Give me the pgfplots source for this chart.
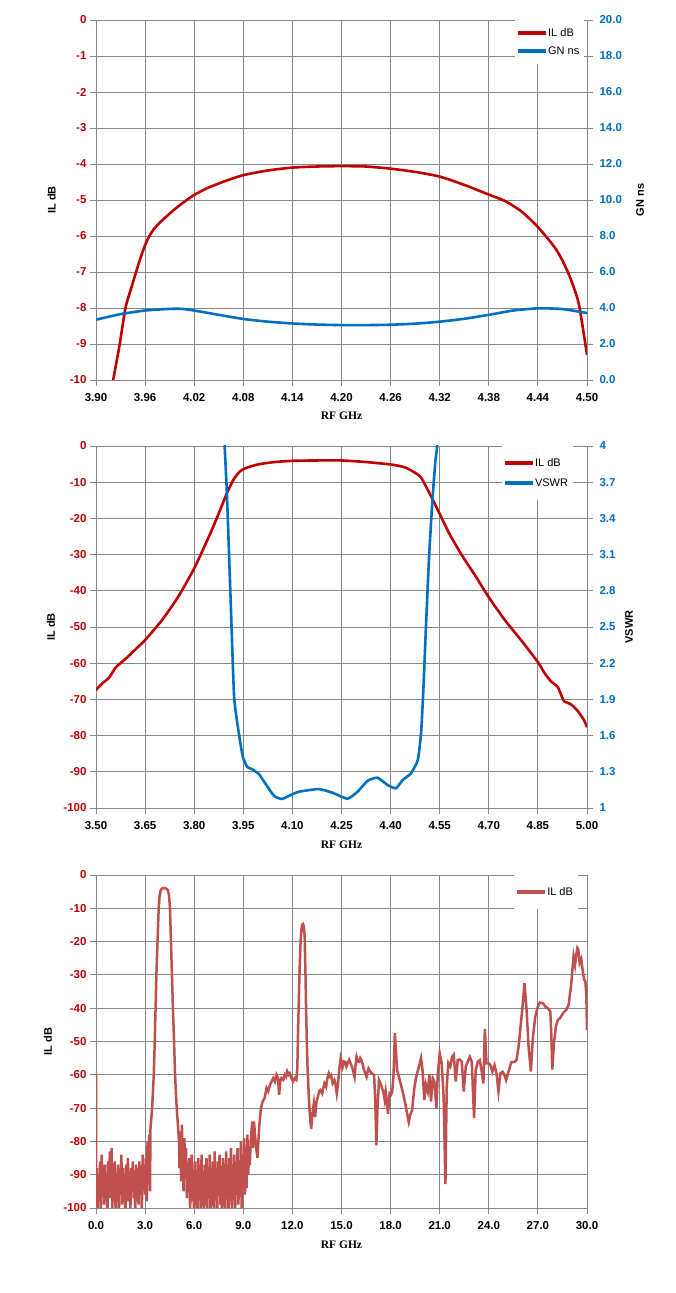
\documentclass[border=0pt]{standalone}
\usepackage{fontspec}
\setmainfont{Liberation Sans}
\newfontfamily\tnr{Liberation Serif}
\usepackage{pgfplots}
\pgfplotsset{compat=1.18}
\definecolor{ilred}{HTML}{C00000}
\definecolor{gnblue}{HTML}{0070C0}
\definecolor{ilthree}{HTML}{C0504D}
\definecolor{gridg}{HTML}{868686}
\newcommand\tickfont{\fontsize{11.5}{13}\selectfont\bfseries}
\newcommand\legfont{\fontsize{11}{13}\selectfont}
\newcommand\labfont{\fontsize{11}{13}\selectfont\bfseries}
\newcommand\xlabfont{\tnr\fontsize{11.5}{13}\selectfont\bfseries}
\pgfplotsset{
  common/.style={
    scale only axis, width=491pt,
    tick align=outside, major tick length=6pt,
    axis line style={draw=gridg, line width=0.9pt},
    tick style={draw=gridg, line width=0.9pt},
    ticklabel style={font=\tickfont},
    legend style={draw=none, fill=white, font=\legfont, inner xsep=3pt,
      /tikz/every odd column/.style={column sep=0pt}},
    legend cell align=left,
    legend image code/.code={\fill[##1,draw=none] (0pt,-1.9pt) rectangle (28pt,1.9pt);},
  },
  prim/.style={common, grid=major, grid style={draw=gridg, line width=0.9pt},
    xtick pos=left, ytick pos=left,
    yticklabel style={text=ilred}, xticklabel style={text=black, yshift=-4pt},
    xlabel style={font=\xlabfont, anchor=center},
    ylabel style={font=\labfont, anchor=center}},
  sec/.style={common, axis x line=none, axis y line*=right,
    yticklabel style={text=gnblue, xshift=3pt},
    ylabel style={font=\labfont, anchor=center}},
}
\begin{document}
\begin{tikzpicture}
\path[use as bounding box, fill=white] (0,0) rectangle (676pt,1293pt);
% ---------------- Chart 1 ----------------
\begin{axis}[prim, at={(96pt,913pt)}, anchor=south west, height=360pt,
  xmin=3.90, xmax=4.50, ymin=-10, ymax=0,
  xtick={3.90,3.96,4.02,4.08,4.14,4.20,4.26,4.32,4.38,4.44,4.50},
  xticklabels={3.90,3.96,4.02,4.08,4.14,4.20,4.26,4.32,4.38,4.44,4.50},
  ytick={-10,-9,-8,-7,-6,-5,-4,-3,-2,-1,0},
  yticklabels={-10,-9,-8,-7,-6,-5,-4,-3,-2,-1,0},
  xlabel={RF GHz}, xlabel style={at={(axis description cs:0.5,-0.1)}},
  ylabel={IL dB}, ylabel style={at={(axis description cs:-0.09,0.5)}}]
\addplot[ilred, line width=2.6pt, smooth, tension=0.4] table {
3.9185 -10.3
3.921 -10.0
3.929 -9.0
3.936 -8.0
3.943 -7.45
3.949 -7.0
3.956 -6.5
3.961 -6.2
3.966 -5.97
3.971 -5.8
3.978 -5.63
3.986 -5.46
3.996 -5.26
4.009 -5.03
4.02 -4.86
4.035 -4.68
4.056 -4.49
4.08 -4.31
4.11 -4.18
4.14 -4.10
4.17 -4.07
4.20 -4.06
4.23 -4.07
4.26 -4.13
4.29 -4.22
4.32 -4.35
4.35 -4.58
4.38 -4.85
4.40 -5.03
4.42 -5.32
4.44 -5.75
4.46 -6.3
4.47 -6.68
4.48 -7.19
4.49 -7.89
4.50 -9.3
};
\end{axis}
\begin{axis}[sec, at={(96pt,913pt)}, anchor=south west, height=360pt,
  xmin=3.90, xmax=4.50, ymin=0, ymax=20,
  ytick={0,2,4,6,8,10,12,14,16,18,20},
  yticklabels={0.0,2.0,4.0,6.0,8.0,10.0,12.0,14.0,16.0,18.0,20.0},
  ylabel={GN ns}, ylabel style={at={(axis description cs:1.108,0.5)}},
  legend style={at={(0.995,1)}, anchor=north east, inner ysep=6pt, row sep=5pt}]
\addlegendimage{ilred}
\addlegendentry{IL dB}
\addplot[gnblue, line width=2.6pt, smooth, tension=0.4] table {
3.90 3.35
3.93 3.66
3.96 3.86
3.99 3.95
4.005 3.95
4.02 3.86
4.05 3.62
4.08 3.39
4.11 3.24
4.14 3.14
4.17 3.08
4.20 3.05
4.23 3.05
4.26 3.07
4.29 3.13
4.32 3.24
4.35 3.40
4.38 3.62
4.41 3.86
4.44 3.98
4.47 3.94
4.50 3.72
};
\addlegendentry{GN ns}
\end{axis}
% ---------------- Chart 2 ----------------
\begin{axis}[prim, at={(96pt,485pt)}, anchor=south west, height=362pt,
  xmin=3.50, xmax=5.00, ymin=-100, ymax=0,
  xtick={3.50,3.65,3.80,3.95,4.10,4.25,4.40,4.55,4.70,4.85,5.00},
  xticklabels={3.50,3.65,3.80,3.95,4.10,4.25,4.40,4.55,4.70,4.85,5.00},
  ytick={-100,-90,-80,-70,-60,-50,-40,-30,-20,-10,0},
  yticklabels={-100,-90,-80,-70,-60,-50,-40,-30,-20,-10,0},
  xlabel={RF GHz}, xlabel style={at={(axis description cs:0.5,-0.102)}},
  ylabel={IL dB}, ylabel style={at={(axis description cs:-0.092,0.5)}}]
\addplot[ilred, line width=2.6pt, smooth, tension=0.4] table {
3.50 -67.4
3.52 -65.5
3.54 -64
3.56 -61.2
3.58 -59.6
3.60 -58
3.625 -55.8
3.65 -53.6
3.70 -48.3
3.75 -41.8
3.80 -33.8
3.85 -24
3.88 -17.5
3.90 -13
3.92 -9.3
3.94 -7
3.96 -6
4.00 -5
4.05 -4.4
4.10 -4.1
4.17 -4.0
4.25 -4.0
4.32 -4.4
4.40 -5.1
4.44 -5.8
4.46 -6.6
4.49 -8.4
4.51 -11.5
4.54 -16.9
4.58 -24.3
4.62 -30.5
4.66 -36
4.70 -41.8
4.75 -48.2
4.80 -53.8
4.85 -59.7
4.87 -62.7
4.89 -65
4.91 -66.5
4.92 -68.5
4.93 -70.5
4.95 -71.3
4.97 -73
4.99 -75.6
5.00 -77.7
};
\end{axis}
\begin{axis}[sec, at={(96pt,485pt)}, anchor=south west, height=362pt,
  xmin=3.50, xmax=5.00, ymin=1, ymax=4,
  ytick={1,1.3,1.6,1.9,2.2,2.5,2.8,3.1,3.4,3.7,4},
  yticklabels={1,1.3,1.6,1.9,2.2,2.5,2.8,3.1,3.4,3.7,4},
  ylabel={VSWR}, ylabel style={at={(axis description cs:1.0855,0.5)}},
  legend style={at={(0.972,1)}, anchor=north east, inner ysep=10pt, row sep=7pt}]
\addlegendimage{ilred}
\addlegendentry{IL dB}
\addplot[gnblue, line width=2.6pt, smooth, tension=0.3] table {
3.885 4.5
3.893 4.0
3.900 3.60
3.911 2.75
3.922 1.92
3.938 1.59
3.949 1.42
3.962 1.34
3.978 1.32
3.998 1.28
4.018 1.20
4.044 1.10
4.068 1.075
4.097 1.11
4.12 1.135
4.18 1.157
4.222 1.127
4.268 1.077
4.299 1.135
4.33 1.226
4.36 1.251
4.391 1.19
4.416 1.163
4.437 1.232
4.462 1.287
4.483 1.397
4.493 1.617
4.50 1.976
4.508 2.50
4.518 3.107
4.529 3.60
4.537 3.88
4.542 4.0
4.55 4.5
};
\addlegendentry{VSWR}
\end{axis}
% ---------------- Chart 3 ----------------
\begin{axis}[prim, at={(96pt,85pt)}, anchor=south west, height=333pt,
  xmin=0, xmax=30, ymin=-100, ymax=0,
  xtick={0,3,6,9,12,15,18,21,24,27,30},
  xticklabels={0.0,3.0,6.0,9.0,12.0,15.0,18.0,21.0,24.0,27.0,30.0},
  ytick={-100,-90,-80,-70,-60,-50,-40,-30,-20,-10,0},
  yticklabels={-100,-90,-80,-70,-60,-50,-40,-30,-20,-10,0},
  xlabel={RF GHz}, xlabel style={at={(axis description cs:0.5,-0.111)}},
  ylabel={IL dB}, ylabel style={at={(axis description cs:-0.098,0.5)}},
  legend style={at={(0.982,1)}, anchor=north east, inner ysep=10pt}]
\addplot[ilthree, line width=2.5pt] table {
0.00 -60
0.02 -98
0.05 -88
0.10 -102
0.15 -90
0.20 -96
0.25 -86
0.30 -101
0.35 -84
0.40 -93
0.45 -89
0.50 -99
0.55 -87
0.60 -95
0.65 -91
0.70 -103
0.75 -86
0.80 -94
0.85 -83
0.90 -97
0.95 -82
1.00 -100
1.05 -88
1.10 -94
1.15 -86
1.20 -102
1.25 -90
1.30 -96
1.35 -87
1.40 -101
1.45 -89
1.50 -93
1.55 -84
1.60 -99
1.65 -88
1.70 -95
1.75 -90
1.80 -104
1.85 -87
1.90 -92
1.95 -85
2.00 -98
2.05 -89
2.10 -101
2.15 -88
2.20 -94
2.25 -86
2.30 -97
2.35 -90
2.40 -102
2.45 -87
2.50 -93
2.55 -88
2.60 -99
2.65 -86
2.70 -95
2.75 -89
2.80 -101
2.85 -84
2.90 -92
2.95 -87
3.00 -96
3.05 -85
3.10 -98
3.15 -80
3.20 -93
3.25 -78
3.30 -95
3.33 -76
3.38 -73
3.43 -70
3.48 -65
3.53 -60
3.59 -50
3.64 -40
3.69 -30
3.76 -20
3.83 -10
3.88 -6.5
3.94 -4.8
4.02 -4.1
4.12 -3.9
4.25 -4.0
4.38 -4.5
4.46 -6
4.52 -10
4.58 -20
4.64 -30
4.70 -40
4.77 -50
4.83 -60
4.93 -70
5.02 -76
5.07 -80
5.10 -88
5.15 -77
5.20 -92
5.25 -75
5.30 -86
5.35 -95
5.40 -79
5.45 -90
5.50 -82
5.55 -97
5.60 -88
5.65 -94
5.70 -85
5.75 -101
5.80 -89
5.85 -84
5.90 -98
5.95 -90
6.00 -104
6.05 -86
6.10 -95
6.15 -89
6.20 -103
6.25 -85
6.30 -93
6.35 -88
6.40 -102
6.45 -84
6.50 -96
6.55 -90
6.60 -104
6.65 -87
6.70 -94
6.75 -85
6.80 -100
6.85 -89
6.90 -96
6.95 -84
7.00 -103
7.05 -88
7.10 -93
7.15 -86
7.20 -101
7.25 -83
7.30 -95
7.35 -90
7.40 -104
7.45 -86
7.50 -92
7.55 -84
7.60 -99
7.65 -88
7.70 -105
7.75 -85
7.80 -94
7.85 -89
7.90 -102
7.95 -83
8.00 -97
8.05 -87
8.10 -103
8.15 -85
8.20 -95
8.25 -82
8.30 -100
8.35 -88
8.40 -96
8.45 -84
8.50 -102
8.55 -86
8.60 -93
8.65 -82
8.70 -99
8.75 -87
8.80 -95
8.85 -80
8.90 -101
8.95 -85
9.00 -92
9.05 -79
9.10 -96
9.15 -84
9.20 -94
9.25 -78
9.30 -90
9.35 -83
9.40 -87
9.45 -80
9.50 -77
9.55 -74
9.60 -82
9.65 -74
9.75 -80
9.86 -85
9.98 -75
10.08 -70
10.18 -68
10.30 -67
10.42 -64
10.52 -65
10.63 -63
10.73 -62
10.83 -61
10.93 -62
11.03 -60
11.12 -61
11.19 -66
11.26 -62
11.33 -61
11.44 -61.5
11.54 -60
11.61 -60.5
11.68 -59
11.76 -60
11.84 -59.5
11.94 -61
12.04 -62
12.14 -61
12.24 -61.5
12.30 -58
12.34 -48.5
12.39 -38
12.44 -28.5
12.50 -20
12.55 -16.4
12.60 -14.9
12.65 -14.7
12.70 -15.5
12.75 -18.4
12.80 -30
12.83 -38.5
12.88 -50
12.93 -58.6
13.00 -66
13.05 -70.6
13.10 -74
13.15 -76.2
13.22 -72
13.31 -68.6
13.39 -72.7
13.47 -68
13.56 -66.6
13.63 -65
13.70 -64.6
13.82 -65.6
13.89 -64
13.96 -62.6
14.06 -63.6
14.14 -61
14.22 -59.6
14.29 -60.5
14.36 -60.1
14.46 -62.6
14.57 -61.6
14.64 -63
14.71 -65.6
14.79 -62.6
14.87 -58
14.95 -55
15.07 -57.6
15.15 -56
15.23 -56.1
15.30 -57.5
15.37 -56.6
15.47 -55.5
15.55 -56.5
15.64 -57.6
15.72 -59
15.80 -60.6
15.86 -57
15.92 -54.6
16.00 -56
16.08 -56.1
16.15 -55
16.22 -55.6
16.30 -57
16.38 -58.6
16.45 -59.5
16.53 -60.6
16.60 -59
16.65 -58.1
16.75 -59
16.85 -59.6
16.92 -59.8
16.99 -60.1
17.06 -67
17.13 -81.2
17.20 -70
17.29 -61.6
17.37 -62.5
17.45 -63.6
17.55 -65
17.64 -67.6
17.70 -65.1
17.77 -68
17.84 -71.7
17.94 -65.6
18.02 -66
18.10 -65.1
18.18 -60
18.26 -47.5
18.33 -53
18.40 -58.6
18.50 -60.5
18.61 -62.6
18.71 -64.5
18.81 -66.6
18.91 -69
19.01 -71.7
19.11 -74.2
19.20 -72
19.31 -70.7
19.45 -64
19.55 -61
19.65 -59
19.76 -57
19.86 -55
19.96 -59
20.06 -67.6
20.16 -63
20.27 -65
20.37 -60
20.47 -68
20.57 -61
20.67 -62
20.80 -70
20.88 -60
21.00 -53.6
21.12 -56.5
21.24 -66.5
21.35 -92.8
21.43 -63.5
21.53 -56.5
21.65 -57.5
21.76 -54.6
21.86 -54
21.98 -62
22.10 -55.6
22.22 -55.4
22.35 -56.1
22.47 -65
22.59 -57.6
22.71 -56.1
22.84 -54.6
22.96 -56.1
23.10 -73
23.20 -58.6
23.33 -56.1
23.45 -55.6
23.57 -59.1
23.67 -62.6
23.76 -46.3
23.86 -56.6
24.00 -56.6
24.10 -57.1
24.22 -59.1
24.35 -57.1
24.47 -59.6
24.59 -65
24.71 -59.6
24.84 -59.1
24.96 -60.1
25.06 -61.6
25.20 -59.1
25.37 -56.3
25.57 -56.1
25.69 -55.6
25.82 -51.6
25.98 -43.5
26.10 -37.5
26.18 -32.5
26.31 -40.5
26.43 -51.6
26.57 -59
26.69 -49
26.84 -42.5
27.00 -39.5
27.12 -38.3
27.31 -38.5
27.45 -39.5
27.61 -40
27.76 -41
27.82 -48
27.88 -58.4
27.98 -50.5
28.10 -45.5
28.22 -43.5
28.35 -43
28.53 -41.5
28.73 -40.5
28.88 -39
29.04 -32.5
29.18 -24.4
29.27 -27
29.33 -24.4
29.41 -21.9
29.47 -22.4
29.55 -26.4
29.65 -25.2
29.73 -28.4
29.82 -31.4
29.90 -31.9
29.96 -36.4
30.00 -46.5
};
\addlegendentry{IL dB}
\end{axis}
\end{tikzpicture}
\end{document}
